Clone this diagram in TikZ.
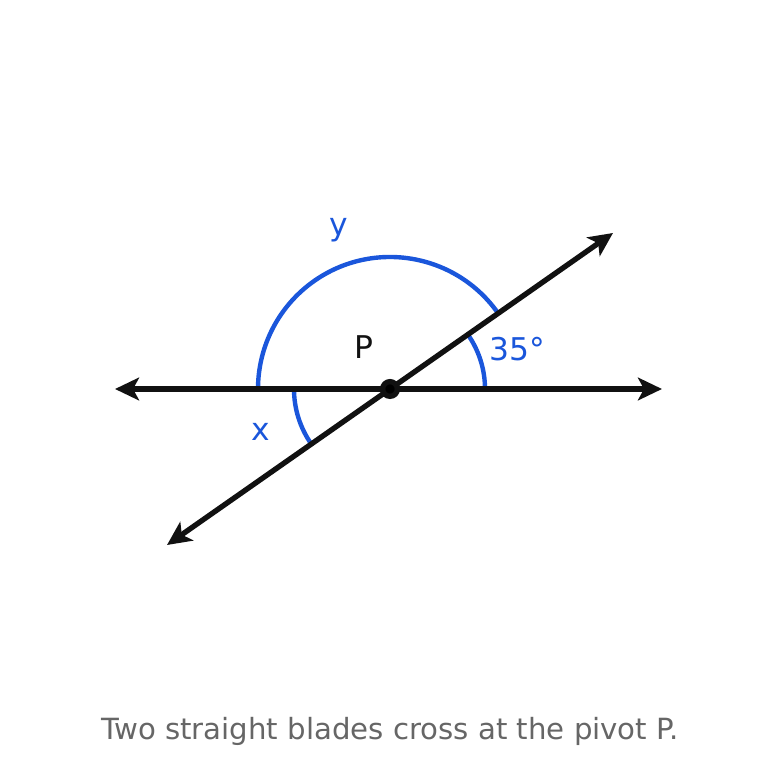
\documentclass[tikz,border=0pt]{standalone}
\usepackage{fontspec}
\setmainfont{DejaVu Sans}
\usetikzlibrary{arrows.meta}
\definecolor{angblue}{RGB}{26,86,219}
\definecolor{blade}{RGB}{17,17,17}
\definecolor{capgray}{RGB}{102,102,102}
\tikzset{
  blade/.style={draw=blade,line width=4pt,{Stealth[length=18pt,width=17pt,inset=4.5pt]}-{Stealth[length=18pt,width=17pt,inset=4.5pt]}},
  angarc/.style={draw=angblue,line width=3.3pt},
  anglabel/.style={text=angblue,font=\fontsize{23.5}{28}\selectfont}
}
\begin{document}
\begin{tikzpicture}[x=0.75pt,y=0.75pt]
          \useasboundingbox (0,0) rectangle (779,779);
          \coordinate (P) at (390,390);
          \coordinate (L) at (115,390);
          \coordinate (R) at (662,390);
          \coordinate (SW) at (167,234);
          \coordinate (NE) at (613,546);
          % angle arcs
          \draw[angarc] (P) ++(0:95) arc (0:35:95);
          \draw[angarc] (P) ++(35:132) arc (35:180:132);
          \draw[angarc] (P) ++(180:96) arc (180:215:96);
          % blades
          \draw[blade] (L) to (R);
          \draw[blade] (SW) to (NE);
          \fill[blade] (P) circle (5.5pt);
          % labels
          \node[anglabel] (y) at (339,549) {y};
          \node[font=\fontsize{23.5}{28}\selectfont,text=blade] (Plab) at (364,432) {P};
          \node[anglabel] (a35) at (517,430) {35°};
          \node[anglabel] (x) at (261,347) {x};
          \node[text=capgray,font=\fontsize{21.9}{26}\selectfont] (cap) at (390,48) {Two straight blades cross at the pivot P.};
        \end{tikzpicture}
\end{document}
